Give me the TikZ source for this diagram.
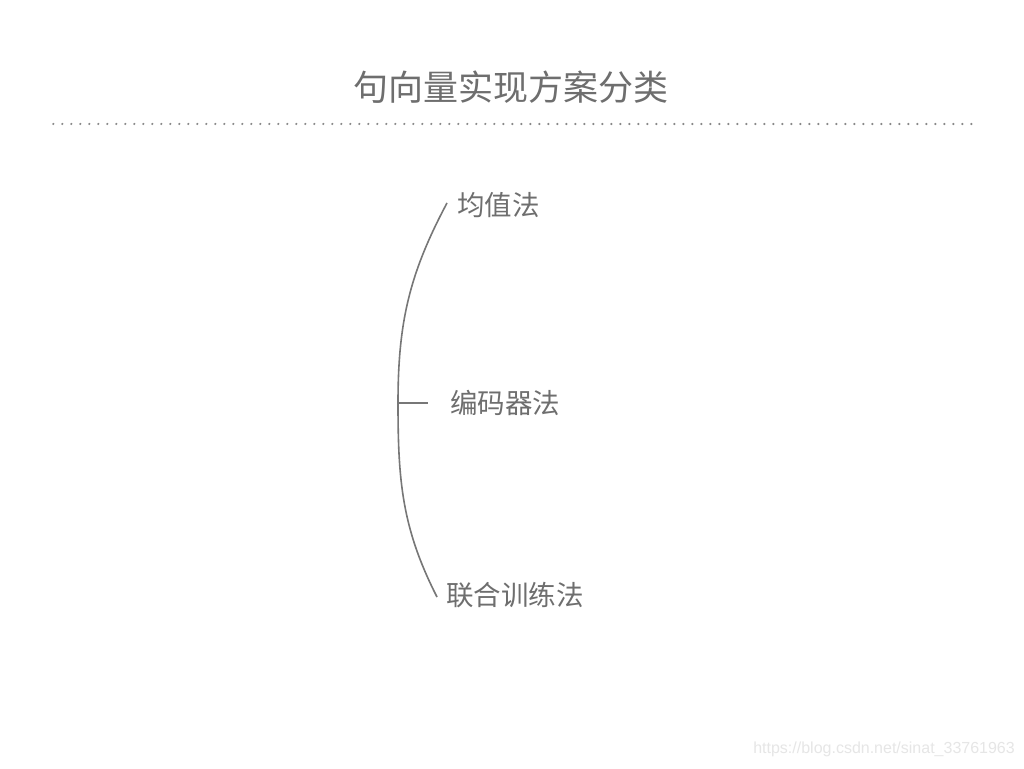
\documentclass[tikz,border=0pt]{standalone}
\usepackage{fontspec}
\newfontfamily\cjk{Noto Sans CJK SC}
\setsansfont{Liberation Sans}
\definecolor{txt}{HTML}{6E6E6E}
\definecolor{ln}{HTML}{777777}
\definecolor{dt}{HTML}{888888}
\definecolor{wm}{HTML}{E6E6E6}
\begin{document}
\begin{tikzpicture}[x=1pt,y=1pt,
  title/.style={font=\cjk\fontsize{35}{40}\selectfont, text=txt, inner sep=0pt},
  item/.style={font=\cjk\fontsize{27.5}{32}\selectfont, text=txt, inner sep=0pt, anchor=west},
  conn/.style={draw=ln, line width=1.6pt},
  dots/.style={draw=dt, line width=2.4pt, line cap=round, dash pattern=on 0pt off 9.0pt}]
\fill[white] (0,0) rectangle (1024,768);
\useasboundingbox (0,0) rectangle (1024,768);
\node[title] (t) at (511,681) {句向量实现方案分类};
\coordinate (dl) at (53.3,644);
\coordinate (dr) at (972.5,644);
\draw[dots] (dl) -- (dr);
\node[item] (a) at (457,563) {均值法};
\node[item] (b) at (450,365) {编码器法};
\node[item] (c) at (446,173) {联合训练法};
\coordinate (top) at (447,565);
\coordinate (mid) at (398,365);
\coordinate (bot) at (437,171);
\coordinate (tick) at (428,365);
\draw[conn] (top) to[out=242,in=90] (mid) to[out=270,in=117] (bot);
\draw[conn] (mid) -- (tick);
\node[font=\sffamily\fontsize{16}{18}\selectfont, text=wm, anchor=east, inner sep=0pt] (w) at (1015,19) {https://blog.csdn.net/sinat\_33761963};
\end{tikzpicture}
\end{document}
